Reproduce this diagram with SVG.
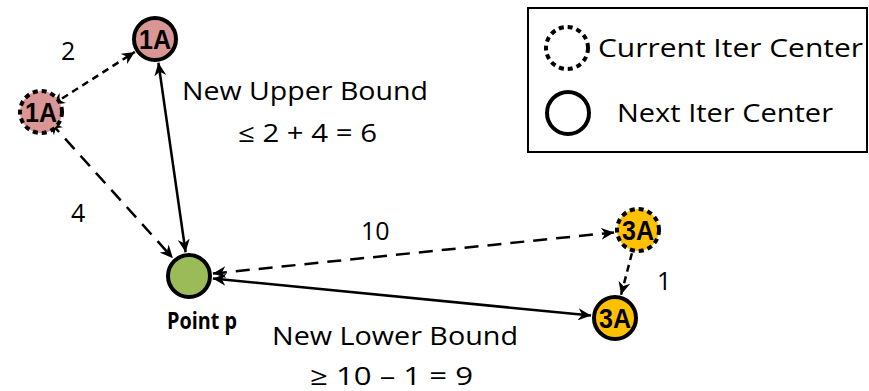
<svg xmlns="http://www.w3.org/2000/svg" width="869" height="391" viewBox="0 0 869 391">
<defs>
<marker id="ah" markerUnits="userSpaceOnUse" markerWidth="14" markerHeight="12" viewBox="0 0 14 12" refX="13" refY="6" orient="auto-start-reverse">
<path d="M0,0 L13,6 L0,12 L4,6 z" fill="#000"/>
</marker>
</defs>
<style>
text{font-family:"Open Sans","Liberation Sans",sans-serif;fill:#000}
.lbl{font-size:25px}
.nt{font-family:"Liberation Sans",sans-serif;font-size:28px;font-weight:bold;text-anchor:middle}
.cur{stroke:#000;stroke-width:4;stroke-dasharray:5 4}
.nxt{stroke:#000;stroke-width:4}
.ln{stroke:#000;stroke-width:2.5;fill:none}
.dl{stroke-dasharray:14 9}
.ds{stroke-dasharray:7 5}
</style>
<rect width="869" height="391" fill="#fff"/>

<g id="connectors">
<line class="ln ds" x1="51.9" y1="105" x2="134.8" y2="51.9" marker-start="url(#ah)" marker-end="url(#ah)"/>
<line class="ln dl" x1="49.7" y1="121.6" x2="172.9" y2="258.2" marker-start="url(#ah)" marker-end="url(#ah)"/>
<line class="ln" x1="158.4" y1="62.8" x2="185.6" y2="252.2" marker-start="url(#ah)" marker-end="url(#ah)"/>
<line class="ln dl" x1="212.9" y1="273.6" x2="614.1" y2="232.4" marker-start="url(#ah)" marker-end="url(#ah)"/>
<line class="ln" x1="212.9" y1="278.4" x2="591.1" y2="315.6" marker-start="url(#ah)" marker-end="url(#ah)"/>
<line class="ln ds" x1="631.9" y1="253.2" x2="621.1" y2="294.8" marker-end="url(#ah)"/>
</g>

<g id="node-1A-next">
<circle cx="155" cy="39" r="21" fill="#d99694" class="nxt"/>
<text class="nt" x="155" y="49" textLength="32" lengthAdjust="spacingAndGlyphs">1A</text>
</g>
<g id="node-1A-current">
<circle cx="41" cy="112" r="21" fill="#d99694" class="cur"/>
<text class="nt" x="41" y="122" textLength="32" lengthAdjust="spacingAndGlyphs">1A</text>
</g>
<g id="node-point-p">
<circle cx="189" cy="276" r="21" fill="#9bbb59" class="nxt"/>
<text x="167" y="329" font-size="23" font-weight="bold" textLength="70" lengthAdjust="spacingAndGlyphs">Point p</text>
</g>
<g id="node-3A-current">
<circle cx="638" cy="230" r="21" fill="#ffc000" class="cur"/>
<text class="nt" x="638" y="240" textLength="32" lengthAdjust="spacingAndGlyphs">3A</text>
</g>
<g id="node-3A-next">
<circle cx="615" cy="318" r="21" fill="#ffc000" class="nxt"/>
<text class="nt" x="615" y="328" textLength="32" lengthAdjust="spacingAndGlyphs">3A</text>
</g>

<g id="labels">
<text class="lbl" x="61" y="60">2</text>
<text class="lbl" x="71" y="222">4</text>
<text class="lbl" x="361" y="240">10</text>
<text class="lbl" x="657" y="290">1</text>
<text class="lbl" x="182" y="100" textLength="246" lengthAdjust="spacingAndGlyphs">New Upper Bound</text>
<text class="lbl" x="238" y="142" textLength="139" lengthAdjust="spacingAndGlyphs">≤ 2 + 4 = 6</text>
<text class="lbl" x="272" y="345" textLength="246" lengthAdjust="spacingAndGlyphs">New Lower Bound</text>
<text class="lbl" x="310" y="385" textLength="163" lengthAdjust="spacingAndGlyphs">≥ 10 – 1 = 9</text>
</g>

<g id="legend">
<rect x="528" y="8" width="339" height="144" fill="#fff" stroke="#000" stroke-width="2"/>
<circle cx="567" cy="48" r="21" fill="none" class="cur"/>
<circle cx="568" cy="113" r="21" fill="none" class="nxt"/>
<text class="lbl" x="598" y="57" textLength="265" lengthAdjust="spacingAndGlyphs">Current Iter Center</text>
<text class="lbl" x="617" y="122" textLength="216" lengthAdjust="spacingAndGlyphs">Next Iter Center</text>
</g>
</svg>
